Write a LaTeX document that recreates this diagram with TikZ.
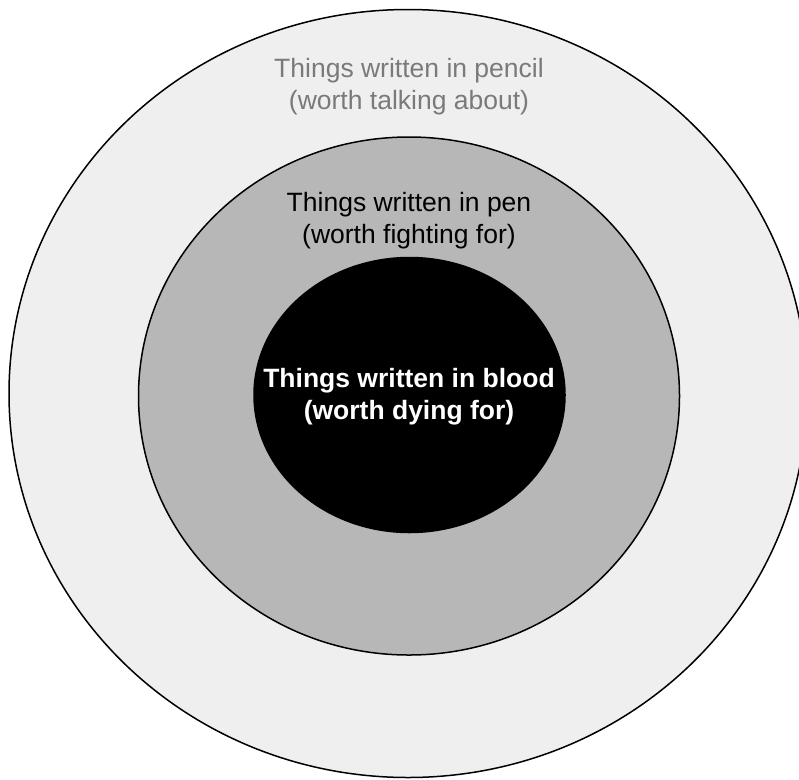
\documentclass[tikz,border=0pt]{standalone}
\usepackage{fontspec}
\setmainfont{Liberation Sans}
\usepackage{tikz}
\usetikzlibrary{positioning}
\definecolor{pencilfill}{HTML}{EFEFEF}
\definecolor{penfill}{HTML}{B7B7B7}
\definecolor{pencilink}{HTML}{7A7A7A}

\begin{document}
\begin{tikzpicture}[x=1pt,y=-1pt,
  ring/.style={draw=black,line width=1.5pt},
  lbl/.style={align=center,font=\fontsize{26.5}{32}\selectfont,inner sep=0pt}]
\useasboundingbox (0,0) rectangle (799,779);
\begin{scope}
\clip (0,0) rectangle (799,779);
\fill[white] (0,0) rectangle (799,779);
\draw[ring,fill=pencilfill] (408,393.5) ellipse [x radius=399,y radius=384];
\draw[ring,fill=penfill] (409,396) ellipse [x radius=270.5,y radius=259];
\draw[ring,fill=black] (409.5,395) ellipse [x radius=155.5,y radius=137.5];
\end{scope}
\node[lbl,pencilink] (pencil) at (409,87) {Things written in pencil\\(worth talking about)};
\node[lbl,black] (pen) at (409,221) {Things written in pen\\(worth fighting for)};
\node[lbl,white,font=\fontsize{26.5}{32}\selectfont\bfseries] (blood) at (409,397) {Things written in blood\\(worth dying for)};
\end{tikzpicture}
\end{document}
